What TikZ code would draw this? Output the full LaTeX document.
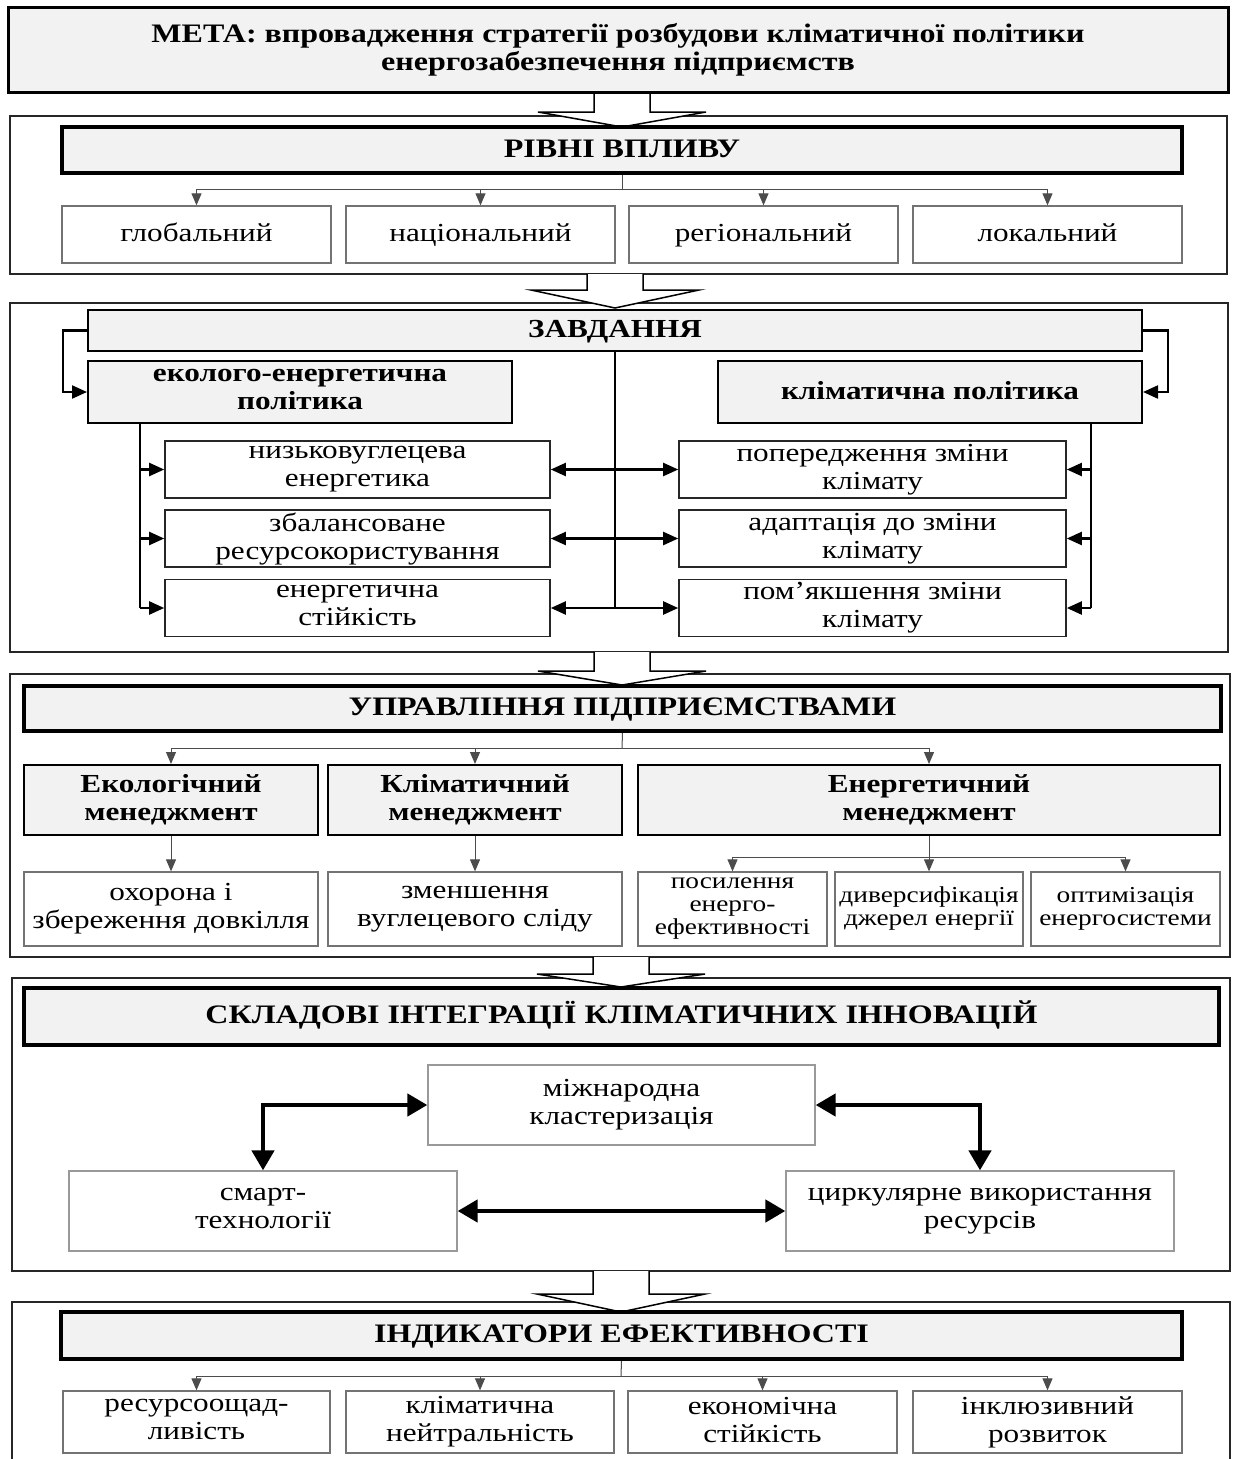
\documentclass[tikz,border=0pt]{standalone}
\usepackage{fontspec}
\setmainfont{Liberation Serif}[FakeStretch=1.2]
\usetikzlibrary{arrows.meta}
\definecolor{hgray}{HTML}{F2F2F2}
\newcommand\mystrut{\rule[-5pt]{0pt}{28pt}}
\newcommand\harr[4]{\draw[harrow] (#1-28,#2) -- (#1-28,#3) -- (#1-84,#3) -- (#1,#4) -- (#1+84,#3) -- (#1+28,#3) -- (#1+28,#2);}
\begin{document}
\begin{tikzpicture}[x=1pt,y=-1pt,
  every node/.style={align=center, inner sep=2pt, font=\fontsize{26}{28}\selectfont,
    execute at begin node=\mystrut, execute at end node=\mystrut},
  oneline/.style={execute at end node=\rule[-9pt]{0pt}{0pt}},
  frame/.style={draw=black!85, line width=2pt},
  harrow/.style={draw=black, fill=white, line width=1.5pt, line join=miter},
  hdr/.style={draw=black, fill=hgray, line width=4pt, font=\fontsize{26.7}{28}\selectfont\bfseries},
  hdrm/.style={draw=black, fill=hgray, line width=2.5pt, font=\fontsize{26}{28}\selectfont\bfseries},
  sbox/.style={draw=black!55, fill=white, line width=1.3pt},
  lbox/.style={draw=black!40, fill=white, line width=1.3pt},
  bbox/.style={draw=black!85, fill=white, line width=1.6pt},
  ebox/.style={draw=black!55, fill=white, line width=1.3pt, font=\fontsize{22.8}{23}\selectfont},
  cline/.style={draw=black!70, line width=1pt},
  carr/.style={cline, -{Triangle[length=12pt,width=10pt]}},
  tline/.style={draw=black, line width=2.2pt},
  tarr/.style={tline, -{Triangle[length=15pt,width=13pt]}},
  tarr2/.style={tline, {Triangle[length=15pt,width=13pt]}-{Triangle[length=15pt,width=13pt]}},
  bigarr/.style={draw=black, line width=4.5pt, {Triangle[length=20pt,width=22pt]}-{Triangle[length=20pt,width=22pt]}}
]
\clip (0,0) rectangle (1232,1459);
\fill[white] (0,0) rectangle (1232,1459);

% frames
\draw[frame] (10,116) rectangle (1227,274);
\draw[frame] (10,303) rectangle (1228,652);
\draw[frame] (10,674) rectangle (1230,957);
\draw[frame] (12,978) rectangle (1230,1271);
\draw[frame] (12,1302) rectangle (1230,1475);

% hollow arrows
\harr{622}{92}{112}{127}
\harr{615}{274}{290}{308}
\harr{622}{652}{671}{685}
\harr{621}{957}{974}{987}
\harr{621}{1271}{1294}{1312}

% section 1
\node[hdr, line width=3pt, minimum width=1220pt, minimum height=85pt] (meta) at (618,49.5)
  {МЕТА: впровадження стратегії розбудови кліматичної політики\\енергозабезпечення підприємств};

% section 2
\node[hdr, oneline, minimum width=1120pt, minimum height=46pt] (lv) at (622,150) {РІВНІ ВПЛИВУ};
\node[sbox, oneline, minimum width=269pt, minimum height=57pt] (l1) at (196.5,234.5) {глобальний};
\node[sbox, oneline, minimum width=269pt, minimum height=57pt] (l2) at (480.5,234.5) {національний};
\node[sbox, oneline, minimum width=269pt, minimum height=57pt] (l3) at (763.5,234.5) {регіональний};
\node[sbox, oneline, minimum width=269pt, minimum height=57pt] (l4) at (1047.5,234.5) {локальний};
\coordinate (lvj) at (622,189);
\draw[cline] (lv.south) -- (lvj);
\foreach \n in {l1,l2,l3,l4} \draw[carr] (lvj) -| (\n.north);

% section 3
\node[hdrm, oneline, minimum width=1054pt, minimum height=41pt] (zd) at (615,330.5) {ЗАВДАННЯ};
\node[hdrm, line width=2pt, minimum width=424pt, minimum height=62pt] (eco) at (300,392) {еколого-енергетична\\політика};
\node[hdrm, oneline, line width=2pt, minimum width=424pt, minimum height=62pt] (kp) at (930,392) {кліматична політика};
\node[bbox, minimum width=385pt, minimum height=57pt] (a1) at (357.5,469.5) {низьковуглецева\\енергетика};
\node[bbox, minimum width=385pt, minimum height=57pt] (a2) at (357.5,538.5) {збалансоване\\ресурсокористування};
\node[bbox, minimum width=385pt, minimum height=57pt] (a3) at (357.5,608) {енергетична\\стійкість};
\node[bbox, minimum width=387pt, minimum height=57pt] (b1) at (872.5,469.5) {попередження зміни\\клімату};
\node[bbox, minimum width=387pt, minimum height=57pt] (b2) at (872.5,538.5) {адаптація до зміни\\клімату};
\node[bbox, minimum width=387pt, minimum height=57pt] (b3) at (872.5,608) {пом’якшення зміни\\клімату};
\draw[tarr] (zd.west) -- ++(-24,0) |- (eco.west);
\draw[tarr] (zd.east) -- ++(25,0) |- (kp.east);
\coordinate (et) at (140,423);
\draw[tline] (et) -- (et |- a3.west);
\foreach \n in {a1,a2,a3} \draw[tarr] (et |- \n.west) -- (\n.west);
\coordinate (kt) at (1091,423);
\draw[tline] (kt) -- (kt |- b3.east);
\foreach \n in {b1,b2,b3} \draw[tarr] (kt |- \n.east) -- (\n.east);
\draw[tline] (zd.south) -- (zd.south |- a3.east);
\foreach \i in {1,2,3} \draw[tarr2] (a\i.east) -- (b\i.west);

% section 4
\node[hdr, oneline, minimum width=1197pt, minimum height=45pt] (up) at (622.5,708.5) {УПРАВЛІННЯ ПІДПРИЄМСТВАМИ};
\node[hdrm, line width=2pt, minimum width=294pt, minimum height=70pt] (m1) at (171,800) {Екологічний\\менеджмент};
\node[hdrm, line width=2pt, minimum width=294pt, minimum height=70pt] (m2) at (475,800) {Кліматичний\\менеджмент};
\node[hdrm, line width=2pt, minimum width=582pt, minimum height=70pt] (m3) at (929,800) {Енергетичний\\менеджмент};
\node[sbox, minimum width=294pt, minimum height=74pt] (s1) at (171,909) {охорона і\\збереження довкілля};
\node[sbox, minimum width=294pt, minimum height=74pt] (s2) at (475,909) {зменшення\\вуглецевого сліду};
\node[ebox, minimum width=189pt, minimum height=74pt] (e1) at (732.5,909) {посилення\\енерго-\\ефективності};
\node[ebox, minimum width=188pt, minimum height=74pt] (e2) at (929,909) {диверсифікація\\джерел енергії};
\node[ebox, minimum width=189pt, minimum height=74pt] (e3) at (1125.5,909) {оптимізація\\енергосистеми};
\coordinate (upj) at (622,748);
\draw[cline] (up.south) -- (upj);
\foreach \n in {m1,m2,m3} \draw[carr] (upj) -| (\n.north);
\draw[carr] (m1.south) -- (s1.north);
\draw[carr] (m2.south) -- (s2.north);
\coordinate (m3j) at (929,857);
\draw[cline] (m3.south) -- (m3j);
\foreach \n in {e1,e2,e3} \draw[carr] (m3j) -| (\n.north);

% section 5
\node[hdr, oneline, minimum width=1195pt, minimum height=57pt] (sk) at (621.5,1016.5) {СКЛАДОВІ ІНТЕГРАЦІЇ КЛІМАТИЧНИХ ІННОВАЦІЙ};
\node[lbox, minimum width=387pt, minimum height=80pt] (mk) at (621.5,1105) {міжнародна\\кластеризація};
\node[lbox, minimum width=388pt, minimum height=80pt] (sm) at (263,1211) {смарт-\\технології};
\node[lbox, minimum width=388pt, minimum height=80pt] (ck) at (980,1211) {циркулярне використання\\ресурсів};
\draw[bigarr] (sm.north) |- (mk.west);
\draw[bigarr] (mk.east) -| (ck.north);
\draw[bigarr] (sm.east) -- (ck.west);

% section 6
\node[hdr, oneline, minimum width=1121pt, minimum height=47pt] (in) at (621.5,1335.5) {ІНДИКАТОРИ ЕФЕКТИВНОСТІ};
\node[sbox, minimum width=267pt, minimum height=62pt] (i1) at (196.5,1422) {ресурсоощад-\\ливість};
\node[sbox, minimum width=268pt, minimum height=62pt] (i2) at (480,1422) {кліматична\\нейтральність};
\node[sbox, minimum width=269pt, minimum height=62pt] (i3) at (762.5,1422) {економічна\\стійкість};
\node[sbox, minimum width=269pt, minimum height=62pt] (i4) at (1047.5,1422) {інклюзивний\\розвиток};
\coordinate (inj) at (621,1376);
\draw[cline] (in.south) -- (inj);
\foreach \n in {i1,i2,i3,i4} \draw[carr] (inj) -| (\n.north);
\end{tikzpicture}
\end{document}
